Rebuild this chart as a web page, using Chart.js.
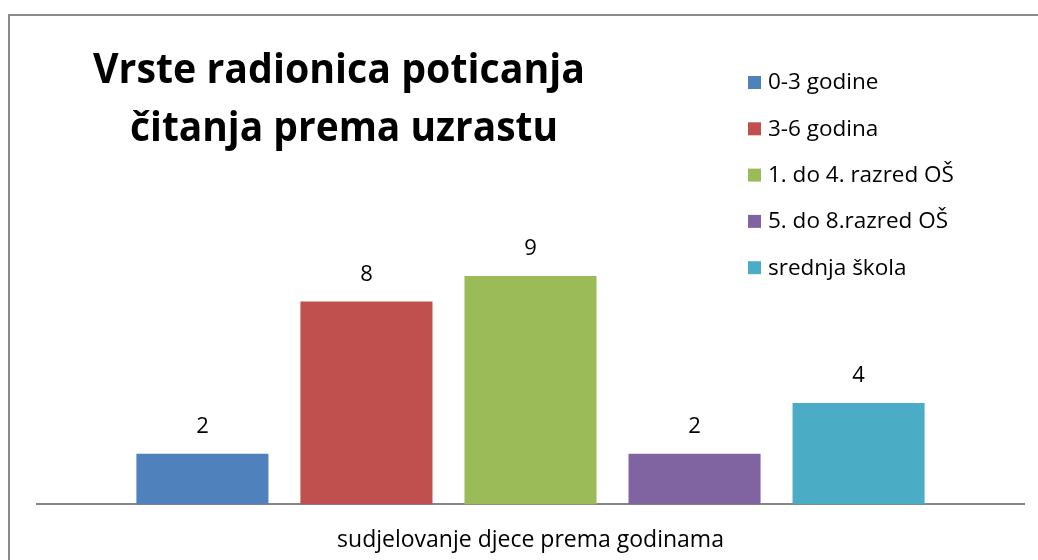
<!DOCTYPE html>
<html>
<head>
<meta charset="utf-8">
<script src="https://cdn.jsdelivr.net/npm/chart.js@4"></script>
<style>
    html, body { margin: 0; padding: 0; background: #fff; overflow: hidden; }
    #wrap { width: 1038px; height: 584px; position: relative; }
</style>
</head>
<body>
<div id="wrap"><canvas id="chart"></canvas></div>
<script>
// Chart data
const titleLines = ['Vrste radionica poticanja', 'čitanja prema uzrastu'];
const categories = ['sudjelovanje djece prema godinama'];
const seriesNames = ['0-3 godine', '3-6 godina', '1. do 4. razred OŠ', '5. do 8.razred OŠ', 'srednja škola'];
const seriesValues = [2, 8, 9, 2, 4];
const seriesColors = ['#4F81BD', '#C0504D', '#9BBB59', '#8064A2', '#4BACC6'];

const FONT = '"Open Sans", "Liberation Sans", sans-serif';

// Frame, title, legend and value labels drawn on the canvas
const decorPlugin = {
    id: 'decor',
    beforeDraw(chart) {
        const ctx = chart.ctx;
        ctx.save();
        ctx.strokeStyle = '#8a8a8a';
        ctx.lineWidth = 2;
        ctx.beginPath();
        ctx.moveTo(9, 600);
        ctx.lineTo(9, 15);
        ctx.lineTo(1100, 15);
        ctx.stroke();
        ctx.restore();
    },
    afterDraw(chart) {
        const ctx = chart.ctx;
        ctx.save();

        // Title
        ctx.fillStyle = '#000';
        ctx.textAlign = 'center';
        ctx.textBaseline = 'alphabetic';
        ctx.font = 'bold 42px ' + FONT;
        ctx.fillText(titleLines[0], 339, 83, 492);
        ctx.fillText(titleLines[1], 344, 141, 428);

        // Legend
        ctx.textAlign = 'left';
        ctx.textBaseline = 'middle';
        ctx.font = '22.5px ' + FONT;
        chart.data.datasets.forEach((ds, i) => {
            const y = 82 + i * 46.3;
            ctx.fillStyle = ds.backgroundColor;
            ctx.fillRect(748, y - 6, 13, 13);
            ctx.fillStyle = '#000';
            ctx.fillText(ds.label, 768, y + 1);
        });

        // Value labels above bars
        ctx.textAlign = 'center';
        ctx.textBaseline = 'middle';
        ctx.font = '22px ' + FONT;
        chart.data.datasets.forEach((ds, i) => {
            const meta = chart.getDatasetMeta(i);
            meta.data.forEach((bar, j) => {
                ctx.fillText(String(ds.data[j]), bar.x, bar.y - 27);
            });
        });
        ctx.restore();
    }
};

const ctx = document.getElementById('chart').getContext('2d');
new Chart(ctx, {
    type: 'bar',
    data: {
        labels: categories,
        datasets: seriesNames.map((name, i) => ({
            label: name,
            data: [seriesValues[i]],
            backgroundColor: seriesColors[i],
            borderWidth: 0,
            categoryPercentage: 0.831,
            barPercentage: 0.805
        }))
    },
    options: {
        responsive: true,
        maintainAspectRatio: false,
        animation: false,
        layout: {
            padding: { top: 200, left: 37, right: 14, bottom: 8 }
        },
        plugins: {
            legend: { display: false },
            title: { display: false },
            tooltip: { enabled: false }
        },
        scales: {
            x: {
                grid: { display: false, drawTicks: false },
                border: { display: true, color: '#868686', width: 2 },
                ticks: {
                    color: '#000',
                    padding: 22,
                    font: { size: 23, family: FONT }
                }
            },
            y: {
                display: false,
                min: 0,
                max: 12
            }
        }
    },
    plugins: [decorPlugin]
});
</script>
</body>
</html>
